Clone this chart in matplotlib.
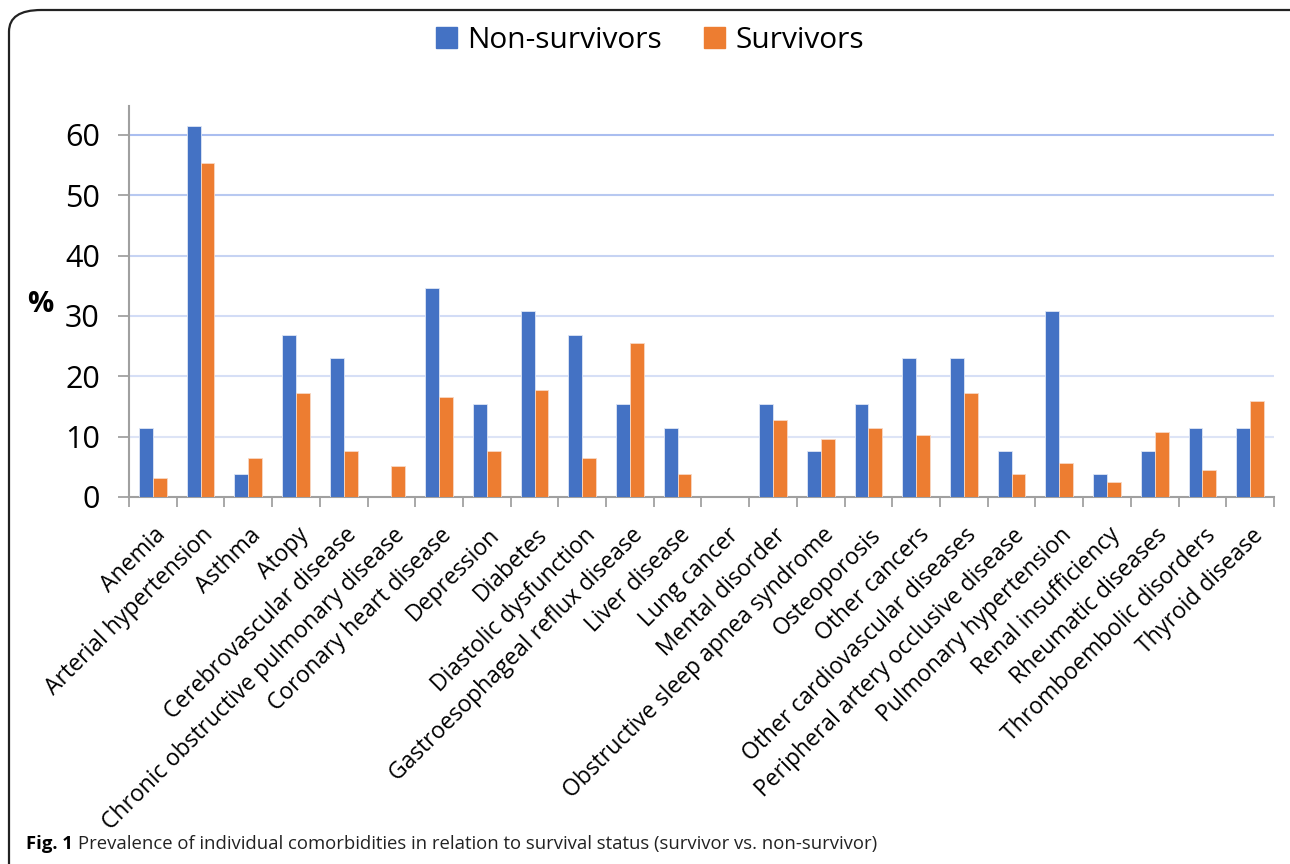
import matplotlib
matplotlib.use('Agg')
import matplotlib.pyplot as plt
import numpy as np
from matplotlib.patches import FancyBboxPatch, Patch

categories = [
    'Anemia', 'Arterial hypertension', 'Asthma', 'Atopy', 'Cerebrovascular disease',
    'Chronic obstructive pulmonary disease', 'Coronary heart disease', 'Depression',
    'Diabetes', 'Diastolic dysfunction', 'Gastroesophageal reflux disease', 'Liver disease',
    'Lung cancer', 'Mental disorder', 'Obstructive sleep apnea syndrome', 'Osteoporosis',
    'Other cancers', 'Other cardiovascular diseases', 'Peripheral artery occlusive disease',
    'Pulmonary hypertension', 'Renal insufficiency', 'Rheumatic diseases',
    'Thromboembolic disorders', 'Thyroid disease',
]
non_survivors = [11.5, 61.5, 3.8, 26.9, 23.1, 0.0, 34.6, 15.4, 30.8, 26.9, 15.4, 11.5,
                 0.0, 15.4, 7.7, 15.4, 23.1, 23.1, 7.7, 30.8, 3.8, 7.7, 11.5, 11.5]
survivors = [3.2, 55.4, 6.4, 17.2, 7.6, 5.1, 16.6, 7.6, 17.8, 6.4, 25.5, 3.8,
             0.0, 12.7, 9.6, 11.5, 10.2, 17.2, 3.8, 5.7, 2.5, 10.8, 4.5, 15.9]
yticks = [0, 10, 20, 30, 40, 50, 60]

BLUE = '#4472C4'
ORANGE = '#ED7D31'
FONT = ['Open Sans', 'DejaVu Sans']

plt.rcParams['font.family'] = FONT

fig = plt.figure(figsize=(12.9, 8.64), dpi=100)

# rounded frame around the whole figure (runs off right/bottom edge)
frame = FancyBboxPatch((9 / 1290, -0.05), 1.2, 1 - 10 / 864 + 0.05,
                       boxstyle='round,pad=0,rounding_size=0.025',
                       transform=fig.transFigure, fill=False,
                       edgecolor='#222222', linewidth=1.6, clip_on=False)
fig.patches.append(frame)

ax = fig.add_axes([129 / 1290, 1 - 497 / 864, (1274 - 129) / 1290, (497 - 106) / 864])

x = np.arange(len(categories))
w = 0.29
ax.bar(x - w / 2, non_survivors, w, color=BLUE, edgecolor='#dfe6f5', linewidth=0.6,
       label='Non-survivors', zorder=3)
ax.bar(x + w / 2, survivors, w, color=ORANGE, edgecolor='#f8d8c4', linewidth=0.6,
       label='Survivors', zorder=3)

ax.set_xlim(-0.5, len(categories) - 0.5)
ax.set_ylim(0, 64.8)
ax.set_yticks(yticks)
ax.set_yticklabels([str(v) for v in yticks], fontsize=22)
ax.tick_params(axis='y', length=8, width=1.2, color='#999999', pad=13)

ax.set_xticks(x + 0.02)
ax.set_xticklabels(categories, rotation=45, ha='right', va='top',
                   rotation_mode='anchor', fontsize=16.5)
ax.tick_params(axis='x', length=0, pad=19)
ax.set_xticks(np.arange(len(categories) + 1) - 0.5, minor=True)
ax.tick_params(axis='x', which='minor', length=7, width=1.2, color='#999999')

for s in ['top', 'right']:
    ax.spines[s].set_visible(False)
for s in ['left', 'bottom']:
    ax.spines[s].set_color('#a0a0a0')
    ax.spines[s].set_linewidth(1.5)

ax.yaxis.grid(True, linewidth=1.5, zorder=0)
grid_cols = ['#ffffff', '#dde4f6', '#d6dff6', '#d2dcf6', '#c6d3f3', '#b8c9f1', '#aabef0']
for gl, c in zip(ax.get_ygridlines(), grid_cols):
    gl.set_color(c)
ax.set_axisbelow(True)

fig.text(40 / 1290, 1 - 304 / 864, '%', fontsize=21, fontweight='bold',
         ha='center', va='center')

handles = [Patch(color=BLUE, label='Non-survivors'), Patch(color=ORANGE, label='Survivors')]
fig.legend(handles=handles, loc='center', bbox_to_anchor=(650 / 1290, 1 - 40 / 864),
           ncol=2, frameon=False, fontsize=21.5, handlelength=0.7, handleheight=0.7,
           handletextpad=0.35, columnspacing=1.4)

fig.text(26 / 1290, 1 - 849 / 864, 'Fig. 1', fontsize=13.3, fontweight='bold',
         ha='left', va='baseline')
fig.text(78 / 1290, 1 - 849 / 864,
         'Prevalence of individual comorbidities in relation to survival status (survivor vs. non-survivor)',
         fontsize=13.3, ha='left', va='baseline', color='#222222')

fig.savefig('out.png', dpi=100)
